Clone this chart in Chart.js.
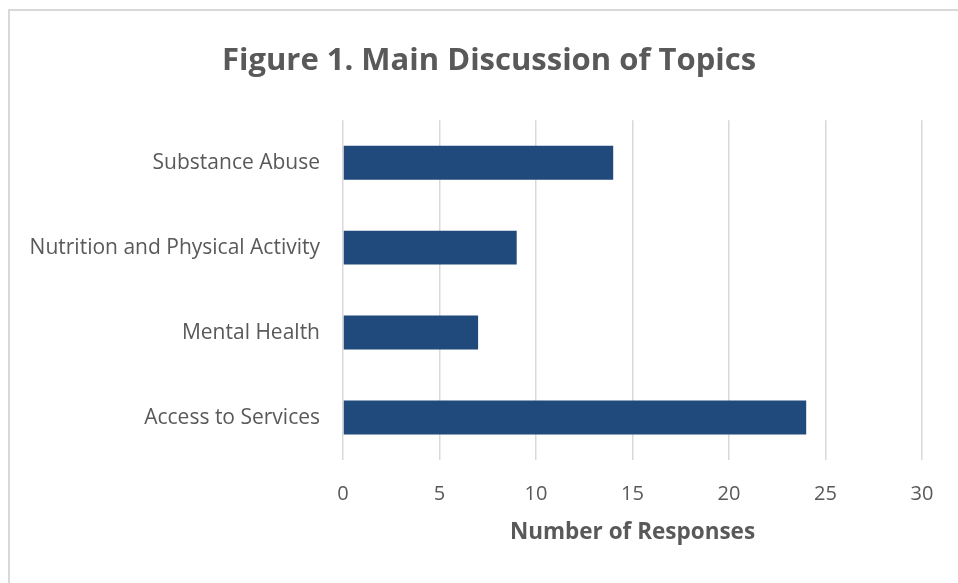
<!DOCTYPE html>
<html>
	<head>
		<meta charset="UTF-8" />
		<title>Figure 1. Main Discussion of Topics</title>
		<script src="https://cdn.jsdelivr.net/npm/chart.js@4"></script>
		<style type="text/css">
			body {
				margin: 0;
				background: #ffffff;
				overflow: hidden;
			}
			.frame {
				position: absolute;
				left: 8px;
				top: 9px;
				width: 980px;
				height: 600px;
				border: 2px solid #d9d9d9;
			}
			.chartBox {
				position: absolute;
				left: 0;
				top: 0;
				width: 978px;
				height: 583px;
			}
		</style>
	</head>
	<body>
		<div class="frame"></div>
		<div class="chartBox">
			<canvas id="myChart"></canvas>
		</div>

		<script>
			// topics, top to bottom
			var topics = ["Substance Abuse", "Nutrition and Physical Activity", "Mental Health", "Access to Services"];
			var responses = [14, 9, 7, 24];
			var xMin = 0;
			var xMax = 30;
			var xStep = 5;
		</script>

		<script>
		const textGrey = '#595959';
		const fontName = 'Open Sans';
		const ctx = document.getElementById('myChart').getContext('2d');

		const config = {
			type: 'bar',
			data: {
				labels: topics,
				datasets: [{
					label: "Number of Responses",
					backgroundColor: '#204a7b',
					borderWidth: 0,
					categoryPercentage: 1.0,
					barPercentage: 0.4,
					data: responses,
				}]
			},
			options: {
				indexAxis: 'y',
				responsive: false,
				animation: false,
				layout: {
					padding: 0
				},
				plugins: {
					legend: { display: false },
					tooltip: { enabled: false },
					title: {
						display: true,
						text: "Figure 1. Main Discussion of Topics",
						color: textGrey,
						font: { family: fontName, size: 31, weight: 'bold' },
						padding: { top: 43, bottom: 40 }
					}
				},
				scales: {
					x: {
						type: 'linear',
						min: xMin,
						max: xMax,
						ticks: {
							stepSize: xStep,
							color: textGrey,
							padding: 22,
							font: { family: fontName, size: 20 }
						},
						grid: {
							color: '#d9d9d9',
							lineWidth: 1.5,
							drawTicks: false
						},
						border: { display: false },
						title: {
							display: true,
							text: "Number of Responses",
							color: textGrey,
							font: { family: fontName, size: 22.5, weight: 'bold' },
							padding: { top: 0, bottom: 37 }
						},
						afterFit: function(scale) { scale.height = 123; }
					},
					y: {
						ticks: {
							color: textGrey,
							padding: 23,
							font: { family: fontName, size: 21 }
						},
						grid: { display: false, drawTicks: false },
						border: { display: false },
						afterFit: function(scale) { scale.width = 343; }
					},
					// empty right-hand axis, only reserves the margin so the title stays centred on the whole frame
					yRight: {
						type: 'linear',
						position: 'right',
						ticks: { display: false },
						grid: { display: false, drawTicks: false },
						border: { display: false },
						afterFit: function(scale) { scale.width = 56; }
					}
				}
			}
		};

		const canvas = document.getElementById('myChart');
		canvas.width = 978;
		canvas.height = 583;
		const myChart = new Chart(ctx, config);
		</script>
	</body>
</html>
